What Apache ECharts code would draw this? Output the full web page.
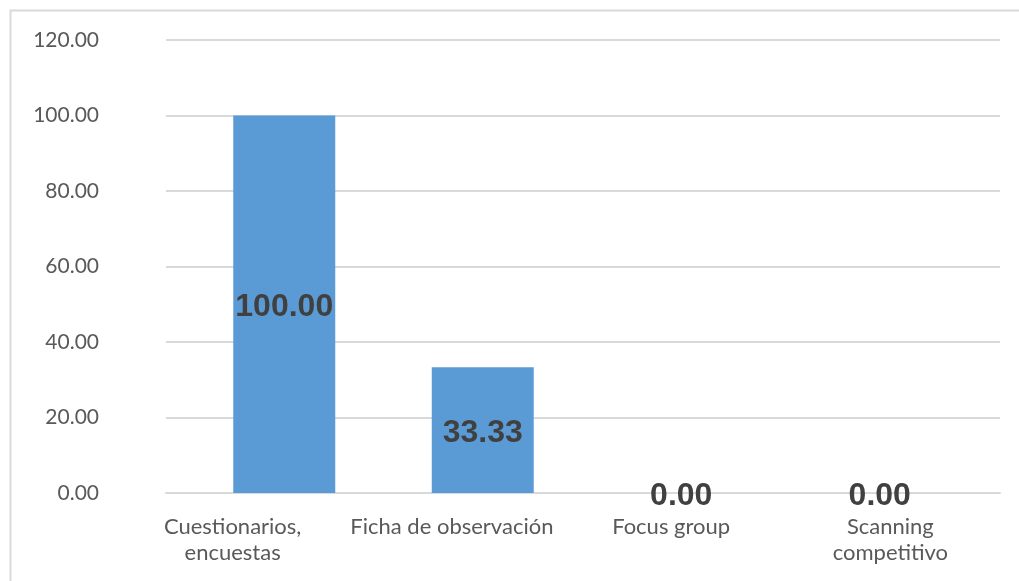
<!DOCTYPE html>
<html>
<head>
<meta charset="utf-8">
<script src="https://cdn.jsdelivr.net/npm/echarts@6/dist/echarts.min.js"></script>
<style>
  html, body { margin: 0; padding: 0; background: #fff; }
  #chart { width: 1019px; height: 581px; }
</style>
</head>
<body>
<div id="chart"></div>
<script>
    // datos
    var categorias = ['Cuestionarios,\nencuestas', 'Ficha de observación', 'Focus group', 'Scanning\ncompetitivo'];
    var valores = [100.00, 33.33, 0.00, 0.00];
    var yMin = 0, yMax = 120, yPaso = 20;

    var myChart = echarts.init(document.getElementById('chart'));

    var option = {
        backgroundColor: '#fff',
        animation: false,
        graphic: [{
            type: 'rect',
            shape: { x: 10.5, y: 10.5, width: 1030, height: 600 },
            style: { fill: 'none', stroke: '#d9d9d9', lineWidth: 2 },
            silent: true
        }],
        grid: [
            // etiquetas
            { left: 123, right: 19, top: 40, bottom: 88 },
            // lineas de cuadricula
            { left: 166, right: 19, top: 40, bottom: 88 },
            // barras
            { left: 185, right: 40, top: 40, bottom: 88 }
        ],
        xAxis: [
            {
                gridIndex: 0,
                type: 'category',
                data: categorias,
                axisLine: { show: false },
                axisTick: { show: false },
                axisLabel: {
                    color: '#595959',
                    fontFamily: 'Lato',
                    fontSize: 22,
                    lineHeight: 26,
                    margin: 21,
                    interval: 0
                }
            },
            {
                gridIndex: 1,
                type: 'category',
                data: categorias,
                axisLine: { show: true, lineStyle: { color: '#d9d9d9', width: 2 } },
                axisTick: { show: false },
                axisLabel: { show: false }
            },
            {
                gridIndex: 2,
                type: 'category',
                data: categorias,
                axisLine: { show: false },
                axisTick: { show: false },
                axisLabel: { show: false }
            }
        ],
        yAxis: [
            {
                gridIndex: 0,
                type: 'value',
                min: yMin, max: yMax, interval: yPaso,
                axisLine: { show: false },
                axisTick: { show: false },
                splitLine: { show: false },
                axisLabel: {
                    color: '#595959',
                    fontFamily: 'Lato',
                    fontSize: 21,
                    margin: 24,
                    formatter: function (v) { return v.toFixed(2); }
                }
            },
            {
                gridIndex: 1,
                type: 'value',
                min: yMin, max: yMax, interval: yPaso,
                axisLine: { show: false },
                axisTick: { show: false },
                axisLabel: { show: false },
                splitLine: { show: true, lineStyle: { color: '#d9d9d9', width: 2 } }
            },
            {
                gridIndex: 2,
                type: 'value',
                min: yMin, max: yMax, interval: yPaso,
                show: false
            }
        ],
        series: [
            {
                type: 'bar',
                xAxisIndex: 2,
                yAxisIndex: 2,
                data: valores,
                barWidth: 102,
                itemStyle: { color: '#5b9bd5' },
                label: {
                    show: true,
                    position: 'inside',
                    offset: [0, 3],
                    color: '#404040',
                    fontFamily: 'Liberation Sans',
                    fontWeight: 'bold',
                    fontSize: 32,
                    formatter: function (p) { return p.value.toFixed(2); }
                }
            }
        ]
    };

    myChart.setOption(option);
</script>
</body>
</html>
